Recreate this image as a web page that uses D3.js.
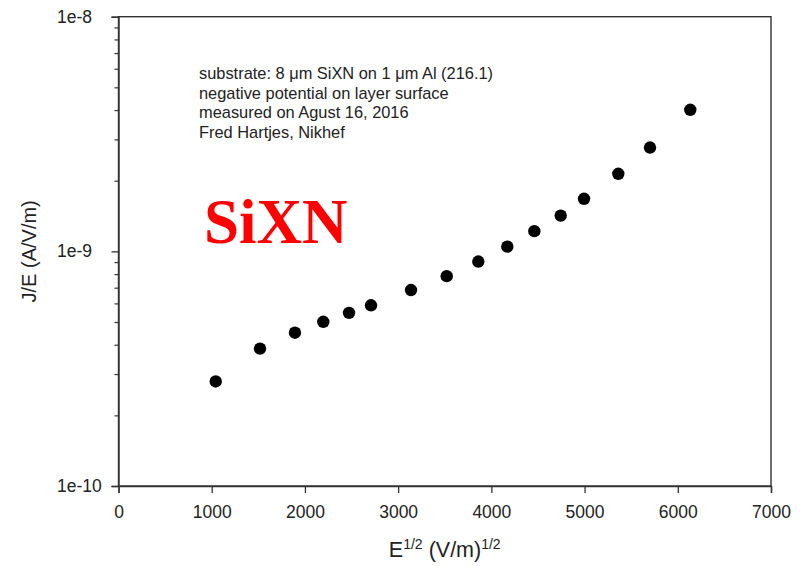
<!DOCTYPE html>
<html>
<head>
<meta charset="utf-8">
<script src="https://cdn.jsdelivr.net/npm/d3@7"></script>
<style>
  body { margin: 0; background: #fff; }
  svg text { font-family: "Liberation Sans", Arial, sans-serif; fill: #222; }
</style>
</head>
<body>
<div id="chart"></div>
<script>
// measured points, E^1/2 vs J/E
var fieldRoot = [1043, 1518, 1893, 2197, 2473, 2709, 3138, 3521, 3860, 4171, 4461, 4744, 4994, 5362, 5702, 6134];
var jOverE = [2.79e-10, 3.85e-10, 4.50e-10, 5.01e-10, 5.47e-10, 5.89e-10, 6.84e-10, 7.84e-10, 9.05e-10, 1.047e-9, 1.219e-9, 1.42e-9, 1.675e-9, 2.14e-9, 2.77e-9, 4.01e-9];

var xTicks = [0, 1000, 2000, 3000, 4000, 5000, 6000, 7000];
var yTicks = [1e-10, 1e-9, 1e-8];
var yTickLabels = ["1e-10", "1e-9", "1e-8"];
var noteLines = [
  "substrate: 8 \u03bcm SiXN on 1 \u03bcm Al (216.1)",
  "negative potential on layer surface",
  "measured on Agust 16, 2016",
  "Fred Hartjes, Nikhef"
];

var margin = {top: 16.7, right: 771, bottom: 486, left: 118.5};

var svg = d3.select("#chart")
  .append("svg")
    .attr("width", 804)
    .attr("height", 566);

var x = d3.scaleLinear()
  .domain([0, 7000])
  .range([margin.left, margin.right]);

var y = d3.scaleLog()
  .domain([1e-10, 1e-8])
  .range([margin.bottom, margin.top]);

// minor ticks for log axis
var minors = [];
[1e-10, 1e-9].forEach(function(d) {
  for (var k = 2; k <= 9; k++) minors.push(d * k);
});

// frame
svg.append("rect")
  .attr("x", margin.left).attr("y", margin.top)
  .attr("width", margin.right - margin.left).attr("height", margin.bottom - margin.top)
  .attr("fill", "none")
  .attr("stroke", "#333")
  .attr("stroke-width", 1.4);

// X axis
var gx = svg.append("g")
  .attr("transform", "translate(0," + margin.bottom + ")")
  .call(d3.axisBottom(x).tickValues(xTicks).tickSize(7).tickPadding(12.5).tickFormat(d3.format("d")));
gx.select(".domain").attr("stroke", "#333").attr("stroke-width", 1.4);
gx.selectAll(".tick line").attr("stroke", "#333").attr("stroke-width", 1.3);
gx.selectAll("text").attr("font-size", 17.5).attr("font-family", null).attr("fill", "#222");

// Y axis, labels left-aligned like the original
var gy = svg.append("g")
  .attr("transform", "translate(" + margin.left + ",0)")
  .call(d3.axisLeft(y).tickValues(yTicks).tickSize(7).tickPadding(9)
    .tickFormat(function(d, i) { return yTickLabels[i]; }));
gy.select(".domain").attr("stroke", "#333").attr("stroke-width", 1.4);
gy.selectAll(".tick line").attr("stroke", "#333").attr("stroke-width", 1.3);
gy.selectAll("text")
  .attr("font-size", 17.5).attr("font-family", null).attr("fill", "#222")
  .attr("text-anchor", "start")
  .attr("x", 57 - margin.left);

var gm = svg.append("g")
  .attr("transform", "translate(" + margin.left + ",0)")
  .call(d3.axisLeft(y).tickValues(minors).tickSize(4).tickFormat(""));
gm.select(".domain").remove();
gm.selectAll(".tick line").attr("stroke", "#333").attr("stroke-width", 1.2);

// axis titles
svg.append("text")
  .attr("transform", "translate(36," + (margin.bottom + margin.top) / 2 + ") rotate(-90)")
  .attr("text-anchor", "middle")
  .attr("font-size", 20)
  .text("J/E (A/V/m)");

var xt = svg.append("text")
  .attr("x", (margin.left + margin.right) / 2)
  .attr("y", 557)
  .attr("text-anchor", "middle")
  .attr("font-size", 21.5);
xt.append("tspan").text("E");
xt.append("tspan").attr("font-size", 14).attr("dy", -8.5).text("1/2");
xt.append("tspan").attr("dy", 8.5).text(" (V/m)");
xt.append("tspan").attr("font-size", 14).attr("dy", -8.5).text("1/2");

// note block
svg.append("g").selectAll("text")
  .data(noteLines)
  .enter().append("text")
    .attr("x", 199)
    .attr("y", function(d, i) { return 79 + i * 19.5; })
    .attr("font-size", 16.4)
    .attr("fill", "#111")
    .text(function(d) { return d; });

svg.append("text")
  .attr("x", 204)
  .attr("y", 243)
  .attr("font-size", 63)
  .attr("font-weight", "bold")
  .style("font-family", "'Liberation Serif', 'Times New Roman', serif")
  .style("fill", "#ff0000")
  .text("SiXN");

// points
svg.append("g").selectAll("circle")
  .data(fieldRoot)
  .enter().append("circle")
    .attr("cx", function(d) { return x(d); })
    .attr("cy", function(d, i) { return y(jOverE[i]); })
    .attr("r", 6.2)
    .attr("fill", "#000");
</script>
</body>
</html>
